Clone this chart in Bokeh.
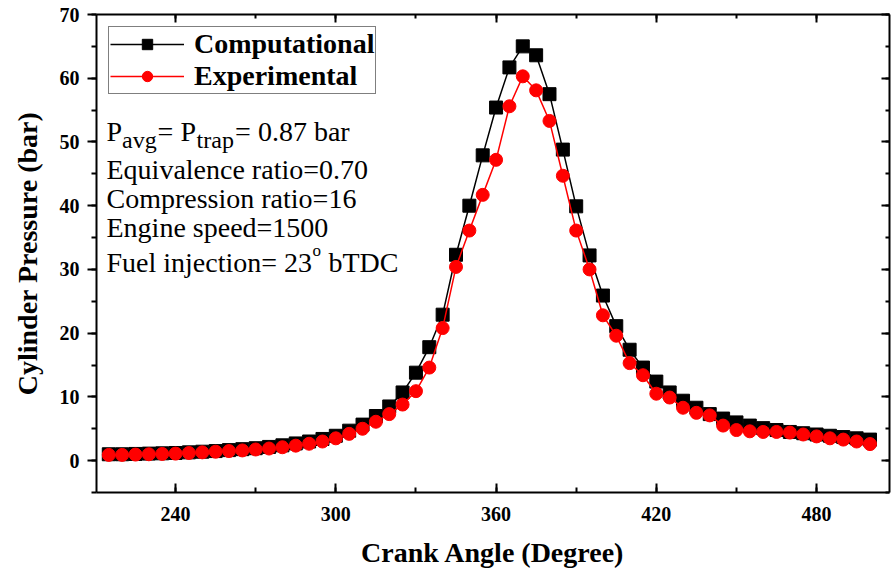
from bokeh.plotting import figure
from bokeh.models import (ColumnDataSource, Legend, LegendItem, LinearAxis, Label,
                          SingleIntervalTicker, Range1d, CustomLabelingPolicy)
from bokeh.embed import file_html
from bokeh.resources import INLINE

# ---------------- data ----------------
crank_angle = [215, 220, 225, 230, 235, 240, 245, 250, 255, 260, 265, 270, 275, 280,
               285, 290, 295, 300, 305, 310, 315, 320, 325, 330, 335, 340, 345, 350,
               355, 360, 365, 370, 375, 380, 385, 390, 395, 400, 405, 410, 415, 420,
               425, 430, 435, 440, 445, 450, 455, 460, 465, 470, 475, 480, 485, 490,
               495, 500]
computational = [1.0, 1.0, 1.05, 1.1, 1.15, 1.2, 1.3, 1.4, 1.5, 1.65, 1.8, 1.95, 2.15, 2.4,
                 2.7, 3.0, 3.4, 3.9, 4.7, 5.65, 7.0, 8.5, 10.7, 13.8, 17.8, 22.9, 32.3, 40.0,
                 47.9, 55.4, 61.7, 65.0, 63.6, 57.5, 48.8, 39.9, 32.2, 25.9, 21.1, 17.4, 14.6, 12.4,
                 10.7, 9.4, 8.3, 7.3, 6.6, 6.0, 5.5, 5.1, 4.8, 4.5, 4.3, 4.1, 3.9, 3.7,
                 3.5, 3.3]
experimental = [0.9, 0.9, 0.95, 1.0, 1.05, 1.1, 1.2, 1.3, 1.4, 1.5, 1.6, 1.75, 1.9, 2.1,
                2.35, 2.65, 3.0, 3.5, 4.2, 5.0, 6.1, 7.3, 8.8, 10.9, 14.6, 20.8, 30.4, 36.1,
                41.7, 47.2, 55.6, 60.3, 58.1, 53.3, 44.7, 36.1, 30.0, 22.8, 19.6, 15.3, 13.4, 10.5,
                9.9, 8.3, 7.5, 7.1, 5.5, 4.8, 4.6, 4.5, 4.5, 4.4, 4.1, 3.8, 3.5, 3.3,
                3.0, 2.6]
x_ticks = [240, 300, 360, 420, 480]
y_ticks = [0, 10, 20, 30, 40, 50, 60, 70]
series_names = ["Computational", "Experimental"]
x_title = "Crank Angle (Degree)"
y_title = "Cylinder Pressure (bar)"

# ---------------- layout ----------------
W, H = 891, 571
FL, FR, FT, FB = 96, 889, 14, 492          # frame edges in pixels
XMIN, XMAX = 210.4, 507.3
YMIN, YMAX = -5.0, 70.0
SERIF = "Liberation Serif"


def px2x(px):
    return XMIN + (px - FL) / (FR - FL) * (XMAX - XMIN)


def py2y(py):
    return YMAX - (py - FT) / (FB - FT) * (YMAX - YMIN)


p = figure(width=W, height=H, output_backend="svg", toolbar_location=None,
           x_range=Range1d(XMIN, XMAX), y_range=Range1d(YMIN, YMAX),
           min_border_left=FL, min_border_right=W - FR, min_border_top=FT,
           min_border_bottom=H - FB, x_axis_label=x_title, y_axis_label=y_title)
p.outline_line_color = None
p.xgrid.visible = False
p.ygrid.visible = False
p.background_fill_color = "white"
p.border_fill_color = "white"

src = ColumnDataSource(dict(x=crank_angle, c=computational, e=experimental))

l1 = p.line("x", "c", source=src, line_color="black", line_width=1.5)
s1 = p.scatter("x", "c", source=src, marker="square", size=13, fill_color="black",
               line_color="black")
l2 = p.line("x", "e", source=src, line_color="red", line_width=1.5)
s2 = p.scatter("x", "e", source=src, marker="circle", size=13, fill_color="red",
               line_color="red")

# axes
xa = p.xaxis[0]
ya = p.yaxis[0]
xa.ticker = SingleIntervalTicker(interval=60, num_minor_ticks=2)
ya.ticker = SingleIntervalTicker(interval=10, num_minor_ticks=2)
for ax in (xa, ya):
    ax.axis_line_width = 2
    ax.major_tick_line_width = 2
    ax.minor_tick_line_width = 2
    ax.major_label_text_font = SERIF
    ax.major_label_text_font_style = "bold"
    ax.major_label_text_font_size = "20px"
    ax.major_label_text_color = "black"
    ax.axis_label_text_font = SERIF
    ax.axis_label_text_font_style = "bold"
    ax.axis_label_text_font_size = "28px"
    ax.axis_label_text_color = "black"
xa.major_tick_in, xa.major_tick_out = 9, 0
xa.minor_tick_in, xa.minor_tick_out = 5, 0
xa.major_label_standoff = 14
xa.axis_label_standoff = 13
ya.major_tick_in, ya.major_tick_out = 0, 9
ya.minor_tick_in, ya.minor_tick_out = 0, 5
ya.major_label_standoff = 8
ya.axis_label_standoff = 14

# unlabeled frame axes on top and right (ticks pointing inward)
top = LinearAxis(ticker=SingleIntervalTicker(interval=60, num_minor_ticks=2))
right = LinearAxis(ticker=SingleIntervalTicker(interval=10, num_minor_ticks=2))
for ax in (top, right):
    ax.axis_line_width = 2
    ax.major_tick_line_width = 2
    ax.minor_tick_line_width = 2
    ax.major_tick_in, ax.major_tick_out = 8, 0
    ax.minor_tick_in, ax.minor_tick_out = 4, 0
    ax.major_label_policy = CustomLabelingPolicy(code="return []")
    ax.major_label_text_font_size = "0px"
    ax.major_label_standoff = 0
p.add_layout(top, "above")
p.add_layout(right, "right")

# legend
legend = Legend(items=[LegendItem(label=series_names[0], renderers=[l1, s1]),
                       LegendItem(label=series_names[1], renderers=[l2, s2])],
                location="top_left")
legend.margin = 12
legend.padding = 1
legend.spacing = 0
legend.glyph_width = 74
legend.glyph_height = 26
legend.label_height = 26
legend.label_standoff = 10
legend.label_text_font = SERIF
legend.label_text_font_style = "bold"
legend.label_text_font_size = "28px"
legend.label_text_color = "black"
legend.border_line_color = "black"
legend.border_line_width = 1.5
legend.background_fill_alpha = 1
p.add_layout(legend)

# annotation text (positions given in pixels and converted to data coordinates)
MAIN = "28px"
SUB = "24px"


def lab(text, px, py, size=MAIN):
    p.add_layout(Label(x=px2x(px), y=py2y(py), text=text, text_font=SERIF,
                       text_font_size=size, text_color="black",
                       text_baseline="alphabetic", text_align="left"))


x0 = 106
# line 1: P_avg= P_trap= 0.87 bar
lab("P", x0, 131)
lab("avg", x0 + 15.6, 139, SUB)
lab("= P", x0 + 15.6 + 35.5, 131)
lab("trap", x0 + 15.6 + 35.5 + 39.0, 139, SUB)
lab("= 0.87 bar", x0 + 15.6 + 35.5 + 39.0 + 38.5, 131)
lab("Equivalence ratio=0.70", x0, 169)
lab("Compression ratio=16", x0, 198)
lab("Engine speed=1500", x0, 227)
lab("Fuel injection= 23", x0, 262)
lab("o", x0 + 206.0, 250, "17px")
lab("bTDC", x0 + 206.0 + 9.0 + 7.0, 262)

open("out.html", "w").write(file_html(p, INLINE))
